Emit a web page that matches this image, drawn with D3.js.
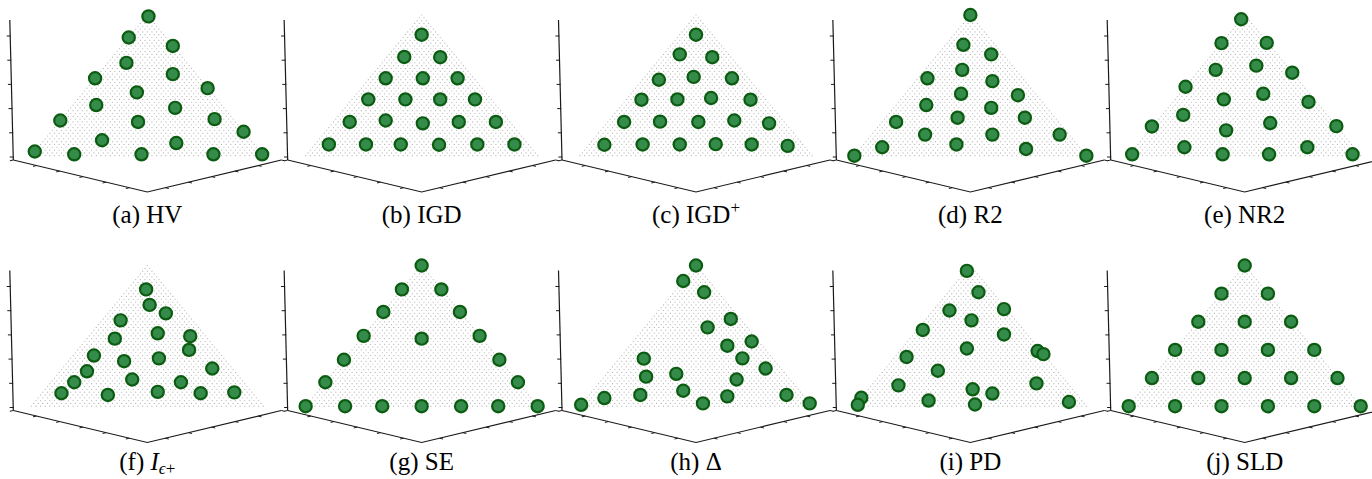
<!DOCTYPE html>
<html>
<head>
<meta charset="utf-8">
<script src="https://cdn.jsdelivr.net/npm/d3@7"></script>
<style>
  html, body { margin: 0; padding: 0; background: #ffffff; }
  svg { display: block; }
</style>
</head>
<body>
<svg id="chart" width="1372" height="479"></svg>
<script>
// Final solution sets (f1, f2, f3) of 21 points on the triangular front, one per indicator
const HV = [
  [0.00,0.01,0.99],[0.16,0.00,0.84],[0.00,0.22,0.78],[0.26,0.08,0.66],[0.10,0.32,0.58],
  [0.45,0.00,0.55],[0.00,0.52,0.48],[0.32,0.23,0.45],[0.54,0.10,0.36],[0.21,0.45,0.34],
  [0.75,0.00,0.25],[0.42,0.34,0.24],[0.08,0.66,0.26],[0.00,0.83,0.17],[0.64,0.25,0.11],
  [0.33,0.58,0.09],[0.97,0.00,0.03],[0.81,0.18,0.01],[0.52,0.47,0.01],[0.21,0.78,0.01],
  [0.00,0.99,0.01]
];
const IGD = [
  [0.07,0.07,0.86],
  [0.22,0.07,0.70],[0.07,0.23,0.70],
  [0.38,0.07,0.55],[0.22,0.23,0.55],[0.07,0.38,0.55],
  [0.53,0.07,0.40],[0.37,0.23,0.40],[0.22,0.38,0.40],[0.07,0.53,0.40],
  [0.69,0.07,0.24],[0.53,0.22,0.25],[0.38,0.39,0.23],[0.22,0.54,0.24],[0.06,0.70,0.24],
  [0.86,0.06,0.08],[0.70,0.22,0.08],[0.55,0.37,0.08],[0.39,0.54,0.08],[0.22,0.70,0.08],[0.06,0.86,0.08]
];
const IGD_PLUS = [
  [0.07,0.07,0.86],
  [0.21,0.07,0.72],[0.08,0.22,0.70],
  [0.39,0.07,0.54],[0.23,0.21,0.56],[0.07,0.38,0.55],
  [0.54,0.07,0.40],[0.38,0.22,0.40],[0.23,0.36,0.41],[0.07,0.54,0.40],
  [0.69,0.07,0.24],[0.53,0.22,0.24],[0.37,0.39,0.24],[0.21,0.54,0.25],[0.07,0.70,0.23],
  [0.86,0.07,0.08],[0.69,0.23,0.08],[0.53,0.39,0.08],[0.37,0.54,0.08],[0.22,0.70,0.08],[0.07,0.86,0.07]
];
const R2 = [
  [0.00,0.00,1.00],[0.14,0.08,0.79],[0.05,0.23,0.72],[0.23,0.16,0.61],[0.41,0.04,0.55],
  [0.14,0.33,0.53],[0.08,0.49,0.43],[0.32,0.24,0.44],[0.51,0.13,0.36],[0.24,0.42,0.34],
  [0.70,0.06,0.24],[0.42,0.31,0.27],[0.13,0.60,0.27],[0.62,0.23,0.15],[0.33,0.52,0.15],
  [0.04,0.81,0.15],[0.85,0.09,0.06],[0.52,0.40,0.08],[0.24,0.72,0.05],[1.00,0.00,0.00],
  [0.00,1.00,0.00]
];
const NR2 = [
  [0.03,0.00,0.97],[0.20,0.00,0.80],[0.00,0.19,0.80],[0.32,0.07,0.61],[0.13,0.23,0.64],
  [0.00,0.41,0.59],[0.51,0.00,0.49],[0.20,0.36,0.44],[0.39,0.21,0.40],[0.03,0.58,0.38],
  [0.62,0.09,0.29],[0.27,0.49,0.23],[0.49,0.33,0.18],[0.00,0.79,0.21],[0.80,0.00,0.21],
  [0.73,0.21,0.06],[0.20,0.74,0.06],[0.98,0.01,0.01],[0.59,0.40,0.01],[0.39,0.60,0.01],
  [0.03,0.96,0.01]
];
const I_EPS_PLUS = [
  [0.09,0.08,0.83],[0.13,0.15,0.72],[0.09,0.25,0.66],[0.31,0.08,0.61],[0.20,0.29,0.52],
  [0.07,0.44,0.50],[0.40,0.12,0.48],[0.12,0.48,0.40],[0.55,0.09,0.36],[0.44,0.24,0.32],
  [0.28,0.38,0.34],[0.09,0.65,0.27],[0.64,0.12,0.25],[0.47,0.34,0.19],[0.27,0.56,0.17],
  [0.73,0.10,0.17],[0.82,0.08,0.09],[0.63,0.29,0.08],[0.40,0.49,0.10],[0.22,0.68,0.09],
  [0.08,0.83,0.10]
];
const SE = [
  [0.00,0.00,1.00],
  [0.17,0.00,0.83],[0.33,0.00,0.67],[0.50,0.00,0.50],[0.67,0.00,0.33],[0.83,0.00,0.17],[1.00,0.00,0.00],
  [0.00,0.17,0.83],[0.00,0.33,0.67],[0.00,0.50,0.50],[0.00,0.67,0.33],[0.00,0.83,0.17],[0.00,1.00,0.00],
  [0.83,0.17,0.00],[0.67,0.33,0.00],[0.50,0.50,0.00],[0.33,0.67,0.00],[0.17,0.83,0.00],
  [0.26,0.26,0.48]
];
const DELTA = [
  [0.00,0.00,1.00],[0.11,0.00,0.89],[0.06,0.13,0.81],[0.04,0.34,0.62],[0.17,0.27,0.56],
  [0.03,0.51,0.46],[0.15,0.42,0.43],[0.13,0.53,0.34],[0.56,0.11,0.34],[0.07,0.67,0.27],
  [0.61,0.18,0.21],[0.47,0.30,0.23],[0.23,0.58,0.19],[0.50,0.39,0.11],[0.70,0.22,0.08],
  [0.33,0.60,0.07],[0.87,0.08,0.06],[0.46,0.52,0.02],[0.07,0.85,0.08],[0.99,0.00,0.01],
  [0.00,0.98,0.02]
];
const PD = [
  [0.03,0.00,0.96],[0.06,0.13,0.81],[0.01,0.30,0.69],[0.25,0.07,0.68],[0.19,0.20,0.61],
  [0.43,0.02,0.54],[0.10,0.39,0.51],[0.31,0.28,0.41],[0.01,0.59,0.39],[0.00,0.63,0.37],
  [0.60,0.05,0.35],[0.51,0.23,0.25],[0.13,0.70,0.16],[0.74,0.12,0.15],[0.43,0.45,0.12],
  [0.36,0.55,0.09],[0.66,0.30,0.04],[0.94,0.00,0.06],[0.98,0.01,0.01],[0.47,0.51,0.01],
  [0.06,0.91,0.03]
];
const SLD = [
  [0.0,0.0,1.0],
  [0.2,0.0,0.8],[0.0,0.2,0.8],
  [0.4,0.0,0.6],[0.2,0.2,0.6],[0.0,0.4,0.6],
  [0.6,0.0,0.4],[0.4,0.2,0.4],[0.2,0.4,0.4],[0.0,0.6,0.4],
  [0.8,0.0,0.2],[0.6,0.2,0.2],[0.4,0.4,0.2],[0.2,0.6,0.2],[0.0,0.8,0.2],
  [1.0,0.0,0.0],[0.8,0.2,0.0],[0.6,0.4,0.0],[0.4,0.6,0.0],[0.2,0.8,0.0],[0.0,1.0,0.0]
];

// Sub-figure tags and indicator names (text pieces: [string, style])
const TAGS = ["(a)","(b)","(c)","(d)","(e)","(f)","(g)","(h)","(i)","(j)"];
const NAMES = [
  [["HV",""]],
  [["IGD",""]],
  [["IGD",""],["+","sup"]],
  [["R2",""]],
  [["NR2",""]],
  [["I","it"],["\u03F5","sub"],["+","subup"]],
  [["SE",""]],
  [["\u0394",""]],
  [["PD",""]],
  [["SLD",""]]
];
const SETS = [HV, IGD, IGD_PLUS, R2, NR2, I_EPS_PLUS, SE, DELTA, PD, SLD];

// Axis ticks (objective values) and the resolution of the reference front
const AXIS_TICKS = [0, 0.2, 0.4, 0.6, 0.8, 1.0];
const AXIS_MAX = 1.155;
const FRONT_DIVISIONS = 50;

// ---- layout ----
const COLS = 5;
const COL_STEP = 274.35, ROW_STEP = 250.5;
const PANEL_LEFT = 13.3;
const CAPTION_Y = [222.5, 470];

// Oblique 3-D view: f1 runs to the left, f2 to the right, f3 upwards
const across = d3.scaleLinear().domain([-1, 1]).range([-116, 116]);   // f2 - f1
const depth  = d3.scaleLinear().domain([0, 1]).range([0, 27.7]);       // f1 + f2
const rise   = d3.scaleLinear().domain([0, 1]).range([0, 113]);        // f3
// vertical f3 axis as it is drawn on the left corner of the box
const zAxis  = d3.scaleLinear().domain([0, 1]).range([157, 36]);

function origin(i) {
  const col = i % COLS, row = Math.floor(i / COLS);
  return { row, cx: PANEL_LEFT + col * COL_STEP + 134, by: row * ROW_STEP + 128, ox: PANEL_LEFT + col * COL_STEP, oy: row * ROW_STEP };
}
function project(p, o) {
  return [o.cx + across(p[1] - p[0]), o.by + depth(p[0] + p[1]) - rise(p[2])];
}

// Reference front: uniform lattice on the simplex
const front = [];
for (let i = 0; i <= FRONT_DIVISIONS; i++) {
  for (let j = 0; j <= FRONT_DIVISIONS - i; j++) {
    const k = FRONT_DIVISIONS - i - j;
    front.push([i / FRONT_DIVISIONS, j / FRONT_DIVISIONS, k / FRONT_DIVISIONS]);
  }
}

const svg = d3.select("#chart");
const AXIS_COLOR = "#1a1a1a";

SETS.forEach((set, i) => {
  const o = origin(i);
  const g = svg.append("g").attr("class", "panel");

  // box floor: two front edges at f3 = 0
  const L = project([AXIS_MAX, 0, 0], o);
  const F = project([AXIS_MAX, AXIS_MAX, 0], o);
  const R = project([0, AXIS_MAX, 0], o);
  g.append("path")
    .attr("d", d3.line()([L, F, R]))
    .attr("fill", "none").attr("stroke", AXIS_COLOR).attr("stroke-width", 1.2);

  // ticks on the f2 edge (left) and the f1 edge (right)
  AXIS_TICKS.forEach(t => {
    const a = project([AXIS_MAX, t, 0], o);
    const b = project([AXIS_MAX + 0.03, t, 0], o);
    g.append("line").attr("x1", a[0]).attr("y1", a[1]).attr("x2", b[0]).attr("y2", b[1])
      .attr("stroke", AXIS_COLOR).attr("stroke-width", 1);
    const c = project([t, AXIS_MAX, 0], o);
    const d = project([t, AXIS_MAX + 0.03, 0], o);
    g.append("line").attr("x1", c[0]).attr("y1", c[1]).attr("x2", d[0]).attr("y2", d[1])
      .attr("stroke", AXIS_COLOR).attr("stroke-width", 1);
  });

  // vertical f3 axis at the left corner (slight lean towards the top)
  const zLo = zAxis.invert(160), zHi = zAxis.invert(20);
  const lean = v => o.ox - 3.5 * (v - zLo) / (zHi - zLo);
  g.append("line")
    .attr("x1", lean(zLo)).attr("y1", o.oy + zAxis(zLo))
    .attr("x2", lean(zHi)).attr("y2", o.oy + zAxis(zHi))
    .attr("stroke", AXIS_COLOR).attr("stroke-width", 1.2);
  AXIS_TICKS.forEach(t => {
    const x = lean(t), y = o.oy + zAxis(t);
    g.append("line").attr("x1", x - 3.5).attr("y1", y).attr("x2", x + 0.5).attr("y2", y)
      .attr("stroke", AXIS_COLOR).attr("stroke-width", 1);
  });

  // reference front as small grey dots
  g.append("g").selectAll("circle").data(front).join("circle")
    .attr("cx", d => project(d, o)[0])
    .attr("cy", d => project(d, o)[1])
    .attr("r", 0.6)
    .attr("fill", "#b3b3b3");

  // solution set
  g.append("g").selectAll("circle").data(set).join("circle")
    .attr("cx", d => project(d, o)[0])
    .attr("cy", d => project(d, o)[1])
    .attr("r", 6.1)
    .attr("fill", "#358b4a")
    .attr("stroke", "#0b5c10")
    .attr("stroke-width", 2.2);

  // caption
  const text = g.append("text")
    .attr("x", o.cx).attr("y", CAPTION_Y[o.row])
    .attr("text-anchor", "middle")
    .attr("font-family", "'Liberation Serif', 'Times New Roman', serif")
    .attr("font-size", 25)
    .attr("fill", "#000");
  text.append("tspan").text(TAGS[i] + "\u00A0");
  let shift = 0;
  NAMES[i].forEach(([s, style]) => {
    const ts = text.append("tspan").text(s);
    let target = 0;
    if (style === "sup") { ts.attr("font-size", 17); target = -10; }
    if (style === "sub") { ts.attr("font-size", 17); target = 4; ts.attr("font-style", "italic"); }
    if (style === "subup") { ts.attr("font-size", 17); target = 4; }
    if (style === "it") { ts.attr("font-style", "italic"); }
    if (target !== shift) { ts.attr("dy", target - shift); shift = target; }
  });
});
</script>
</body>
</html>
